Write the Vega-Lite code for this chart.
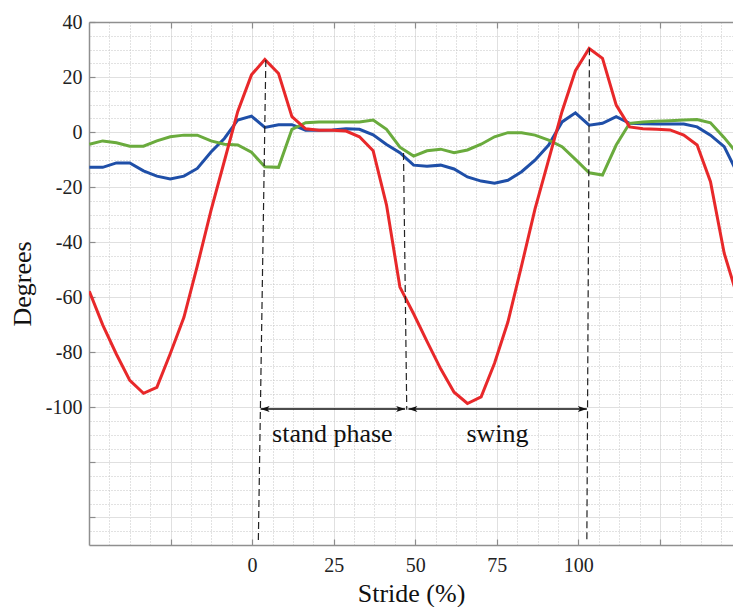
{
  "$schema": "https://vega.github.io/schema/vega-lite/v6.json",
  "width": 644,
  "height": 523,
  "autosize": {"type": "none"},
  "padding": {"left": 89, "top": 22, "right": 0, "bottom": 62},
  "background": "white",
  "config": {"view": {"stroke": null}, "font": "Liberation Serif"},
  "datasets": {
    "curves": [
      {"s":"red","x":-49.9,"y":-57.8},{"s":"red","x":-45.8,"y":-70},{"s":"red","x":-41.6,"y":-80.7},{"s":"red","x":-37.5,"y":-90.2},{"s":"red","x":-33.3,"y":-94.9},{"s":"red","x":-29.2,"y":-92.7},{"s":"red","x":-25.1,"y":-80.5},{"s":"red","x":-20.9,"y":-67.3},{"s":"red","x":-16.8,"y":-48.6},{"s":"red","x":-12.6,"y":-28.4},{"s":"red","x":-8.5,"y":-10.5},{"s":"red","x":-4.4,"y":7.5},{"s":"red","x":-0.2,"y":20.8},{"s":"red","x":3.9,"y":26.4},{"s":"red","x":8.1,"y":21.3},{"s":"red","x":12.2,"y":5.6},{"s":"red","x":16.4,"y":1.2},{"s":"red","x":20.5,"y":0.7},{"s":"red","x":24.6,"y":0.7},{"s":"red","x":28.8,"y":0.4},{"s":"red","x":32.9,"y":-1.7},{"s":"red","x":37.1,"y":-6.8},{"s":"red","x":41.2,"y":-26.5},{"s":"red","x":45.3,"y":-56.3},{"s":"red","x":49.5,"y":-66},{"s":"red","x":53.6,"y":-76},{"s":"red","x":57.8,"y":-86},{"s":"red","x":61.9,"y":-94.5},{"s":"red","x":66.0,"y":-98.6},{"s":"red","x":70.2,"y":-96.2},{"s":"red","x":74.3,"y":-84},{"s":"red","x":78.4,"y":-69},{"s":"red","x":82.6,"y":-48.5},{"s":"red","x":86.7,"y":-28},{"s":"red","x":90.9,"y":-10},{"s":"red","x":95.0,"y":7.5},{"s":"red","x":99.1,"y":22.3},{"s":"red","x":103.3,"y":30.4},{"s":"red","x":107.4,"y":26.8},{"s":"red","x":111.6,"y":9.8},{"s":"red","x":115.7,"y":1.9},{"s":"red","x":119.8,"y":1.2},{"s":"red","x":124.0,"y":1.0},{"s":"red","x":128.1,"y":0.8},{"s":"red","x":132.3,"y":-1.1},{"s":"red","x":136.4,"y":-4.7},{"s":"red","x":140.5,"y":-18},{"s":"red","x":144.7,"y":-44},{"s":"red","x":148.8,"y":-60},
      {"s":"blue","x":-49.9,"y":-12.8},{"s":"blue","x":-45.8,"y":-12.8},{"s":"blue","x":-41.6,"y":-11.2},{"s":"blue","x":-37.5,"y":-11.2},{"s":"blue","x":-33.3,"y":-14.1},{"s":"blue","x":-29.2,"y":-16},{"s":"blue","x":-25.1,"y":-17},{"s":"blue","x":-20.9,"y":-16},{"s":"blue","x":-16.8,"y":-13.2},{"s":"blue","x":-12.6,"y":-7.2},{"s":"blue","x":-8.5,"y":-2.3},{"s":"blue","x":-4.4,"y":4.4},{"s":"blue","x":-0.2,"y":5.8},{"s":"blue","x":3.9,"y":1.7},{"s":"blue","x":8.1,"y":2.7},{"s":"blue","x":12.2,"y":2.7},{"s":"blue","x":16.4,"y":0.7},{"s":"blue","x":20.5,"y":0.7},{"s":"blue","x":24.6,"y":0.8},{"s":"blue","x":28.8,"y":1.2},{"s":"blue","x":32.9,"y":1.0},{"s":"blue","x":37.1,"y":-1.0},{"s":"blue","x":41.2,"y":-4.5},{"s":"blue","x":45.3,"y":-7.5},{"s":"blue","x":49.5,"y":-12},{"s":"blue","x":53.6,"y":-12.4},{"s":"blue","x":57.8,"y":-12},{"s":"blue","x":61.9,"y":-13.4},{"s":"blue","x":66.0,"y":-16.3},{"s":"blue","x":70.2,"y":-17.8},{"s":"blue","x":74.3,"y":-18.6},{"s":"blue","x":78.4,"y":-17.5},{"s":"blue","x":82.6,"y":-14.4},{"s":"blue","x":86.7,"y":-10.2},{"s":"blue","x":90.9,"y":-4.7},{"s":"blue","x":95.0,"y":3.7},{"s":"blue","x":99.1,"y":7},{"s":"blue","x":103.3,"y":2.5},{"s":"blue","x":107.4,"y":3.2},{"s":"blue","x":111.6,"y":5.6},{"s":"blue","x":115.7,"y":3.2},{"s":"blue","x":119.8,"y":3.0},{"s":"blue","x":124.0,"y":2.9},{"s":"blue","x":128.1,"y":2.9},{"s":"blue","x":132.3,"y":2.9},{"s":"blue","x":136.4,"y":1.9},{"s":"blue","x":140.5,"y":-1.1},{"s":"blue","x":144.7,"y":-5.3},{"s":"blue","x":148.8,"y":-15},
      {"s":"green","x":-49.9,"y":-4.4},{"s":"green","x":-45.8,"y":-3.2},{"s":"green","x":-41.6,"y":-3.9},{"s":"green","x":-37.5,"y":-5.1},{"s":"green","x":-33.3,"y":-5.1},{"s":"green","x":-29.2,"y":-3.2},{"s":"green","x":-25.1,"y":-1.7},{"s":"green","x":-20.9,"y":-1.1},{"s":"green","x":-16.8,"y":-1.1},{"s":"green","x":-12.6,"y":-3.2},{"s":"green","x":-8.5,"y":-4.4},{"s":"green","x":-4.4,"y":-4.7},{"s":"green","x":-0.2,"y":-7.3},{"s":"green","x":3.9,"y":-12.6},{"s":"green","x":8.1,"y":-12.8},{"s":"green","x":12.2,"y":1.0},{"s":"green","x":16.4,"y":3.4},{"s":"green","x":20.5,"y":3.7},{"s":"green","x":24.6,"y":3.7},{"s":"green","x":28.8,"y":3.7},{"s":"green","x":32.9,"y":3.7},{"s":"green","x":37.1,"y":4.4},{"s":"green","x":41.2,"y":1.0},{"s":"green","x":45.3,"y":-5.5},{"s":"green","x":49.5,"y":-8.7},{"s":"green","x":53.6,"y":-6.8},{"s":"green","x":57.8,"y":-6.2},{"s":"green","x":61.9,"y":-7.5},{"s":"green","x":66.0,"y":-6.5},{"s":"green","x":70.2,"y":-4.4},{"s":"green","x":74.3,"y":-1.7},{"s":"green","x":78.4,"y":-0.2},{"s":"green","x":82.6,"y":-0.2},{"s":"green","x":86.7,"y":-1.1},{"s":"green","x":90.9,"y":-2.9},{"s":"green","x":95.0,"y":-5.3},{"s":"green","x":99.1,"y":-9.9},{"s":"green","x":103.3,"y":-14.8},{"s":"green","x":107.4,"y":-15.6},{"s":"green","x":111.6,"y":-4.7},{"s":"green","x":115.7,"y":3.2},{"s":"green","x":119.8,"y":3.7},{"s":"green","x":124.0,"y":3.9},{"s":"green","x":128.1,"y":4.1},{"s":"green","x":132.3,"y":4.4},{"s":"green","x":136.4,"y":4.6},{"s":"green","x":140.5,"y":3.4},{"s":"green","x":144.7,"y":-2},{"s":"green","x":148.8,"y":-8}
    ],
    "dashes": [
      {"x": 4.2, "y": 26.2, "x2": 1.9, "y2": -149},
      {"x": 46.4, "y": -7.6, "x2": 47.4, "y2": -100.9},
      {"x": 103.4, "y": 30.5, "x2": 102.6, "y2": -149}
    ],
    "arrows": [
      {"x1": 2.6, "x2": 46.9, "y": -100.6},
      {"x1": 47.9, "x2": 102.6, "y": -100.6}
    ],
    "notes": [
      {"x": 24.6, "y": -112.5, "t": "stand phase"},
      {"x": 75.2, "y": -112.5, "t": "swing"}
    ]
  },
  "layer": [
    {
      "data": {"name": "curves"},
      "mark": {"type": "point", "opacity": 0},
      "encoding": {
        "x": {"field": "x", "type": "quantitative", "scale": {"domain": [-50, 147.4], "nice": false, "zero": false},
          "axis": {"orient": "top", "values": [-43.75,-37.5,-31.25,-18.75,-12.5,-6.25,6.25,12.5,18.75,31.25,37.5,43.75,56.25,62.5,68.75,81.25,87.5,93.75,106.25,112.5,118.75,131.25,137.5,143.75],
            "grid": true, "gridDash": [1, 2], "gridColor": "#c4c4c4", "gridWidth": 1, "ticks": false, "labels": false, "domain": false, "title": null}},
        "y": {"field": "y", "type": "quantitative", "scale": {"domain": [-150, 40], "nice": false, "zero": false},
          "axis": {"orient": "right", "values": [35,30,25,15,10,5,-5,-10,-15,-25,-30,-35,-45,-50,-55,-65,-70,-75,-85,-90,-95,-105,-110,-115,-125,-130,-135,-145],
            "grid": true, "gridDash": [1, 2], "gridColor": "#c4c4c4", "gridWidth": 1, "ticks": false, "labels": false, "domain": false, "title": null}}
      }
    },
    {
      "data": {"name": "curves"},
      "mark": {"type": "point", "opacity": 0},
      "encoding": {
        "x": {"field": "x", "type": "quantitative",
          "axis": {"orient": "top", "values": [-25,0,25,50,75,100,125], "grid": true, "gridColor": "#e0e0e0", "gridWidth": 1,
            "ticks": true, "tickSize": -6, "tickColor": "#8c8c8c", "tickWidth": 1.2, "labels": false, "domain": true, "domainColor": "#8f8f8f", "domainWidth": 1.5, "title": null}},
        "y": {"field": "y", "type": "quantitative",
          "axis": {"orient": "right", "values": [20,0,-20,-40,-60,-80,-100,-120,-140], "grid": true, "gridColor": "#e0e0e0", "gridWidth": 1,
            "ticks": false, "labels": false, "domain": false, "title": null}}
      }
    },
    {
      "data": {"name": "curves"},
      "transform": [{"filter": "datum.s === 'blue'"}],
      "mark": {"type": "line", "color": "#1f4fa8", "strokeWidth": 3, "clip": true},
      "encoding": {
        "x": {"field": "x", "type": "quantitative",
          "axis": {"orient": "bottom", "values": [-25,0,25,50,75,100,125], "grid": false,
            "ticks": true, "tickSize": -6, "tickColor": "#8c8c8c", "tickWidth": 1.2,
            "labelExpr": "datum.value >= 0 && datum.value <= 100 ? '' + datum.value : ''",
            "labelFont": "Liberation Serif", "labelFontSize": 20, "labelColor": "#222", "labelPadding": 16,
            "domain": true, "domainColor": "#8f8f8f", "domainWidth": 1.5,
            "title": "Stride (%)", "titleFont": "Liberation Serif", "titleFontSize": 26, "titleFontWeight": "normal", "titleColor": "#111", "titlePadding": 5}},
        "y": {"field": "y", "type": "quantitative",
          "axis": {"orient": "left", "values": [40,20,0,-20,-40,-60,-80,-100,-120,-140], "grid": false,
            "ticks": true, "tickSize": -6, "tickColor": "#8c8c8c", "tickWidth": 1.2,
            "labelExpr": "datum.value >= -100 ? '' + datum.value : ''",
            "labelFont": "Liberation Serif", "labelFontSize": 20, "labelColor": "#222", "labelPadding": 13,
            "domain": true, "domainColor": "#8f8f8f", "domainWidth": 1.5,
            "title": "Degrees", "titleFont": "Liberation Serif", "titleFontSize": 26, "titleFontWeight": "normal", "titleColor": "#111", "titlePadding": 10}}
      }
    },
    {
      "data": {"name": "curves"},
      "transform": [{"filter": "datum.s === 'green'"}],
      "mark": {"type": "line", "color": "#6aab3d", "strokeWidth": 3, "clip": true},
      "encoding": {
        "x": {"field": "x", "type": "quantitative", "axis": null},
        "y": {"field": "y", "type": "quantitative", "axis": null}
      }
    },
    {
      "data": {"name": "curves"},
      "transform": [{"filter": "datum.s === 'red'"}],
      "mark": {"type": "line", "color": "#e8282a", "strokeWidth": 3, "clip": true},
      "encoding": {
        "x": {"field": "x", "type": "quantitative", "axis": null},
        "y": {"field": "y", "type": "quantitative", "axis": null}
      }
    },
    {
      "data": {"name": "dashes"},
      "mark": {"type": "rule", "color": "#222", "strokeWidth": 1.2, "strokeDash": [7, 4]},
      "encoding": {
        "x": {"field": "x", "type": "quantitative", "axis": null},
        "y": {"field": "y", "type": "quantitative", "axis": null},
        "x2": {"field": "x2"},
        "y2": {"field": "y2"}
      }
    },
    {
      "data": {"name": "arrows"},
      "mark": {"type": "rule", "color": "#111", "strokeWidth": 1.6},
      "encoding": {
        "x": {"field": "x1", "type": "quantitative", "axis": null},
        "x2": {"field": "x2"},
        "y": {"field": "y", "type": "quantitative", "axis": null}
      }
    },
    {
      "data": {"name": "arrows"},
      "mark": {"type": "point", "shape": "M0,0L1,-0.33L0.75,0L1,0.33Z", "filled": true, "color": "#111", "opacity": 1, "size": 324},
      "encoding": {
        "x": {"field": "x1", "type": "quantitative", "axis": null},
        "y": {"field": "y", "type": "quantitative", "axis": null}
      }
    },
    {
      "data": {"name": "arrows"},
      "mark": {"type": "point", "shape": "M0,0L-1,-0.33L-0.75,0L-1,0.33Z", "filled": true, "color": "#111", "opacity": 1, "size": 324},
      "encoding": {
        "x": {"field": "x2", "type": "quantitative", "axis": null},
        "y": {"field": "y", "type": "quantitative", "axis": null}
      }
    },
    {
      "data": {"name": "notes"},
      "mark": {"type": "text", "font": "Liberation Serif", "fontSize": 26, "align": "center", "baseline": "alphabetic", "color": "#111"},
      "encoding": {
        "x": {"field": "x", "type": "quantitative", "axis": null},
        "y": {"field": "y", "type": "quantitative", "axis": null},
        "text": {"field": "t"}
      }
    }
  ],
  "resolve": {"axis": {"x": "independent", "y": "independent"}}
}
